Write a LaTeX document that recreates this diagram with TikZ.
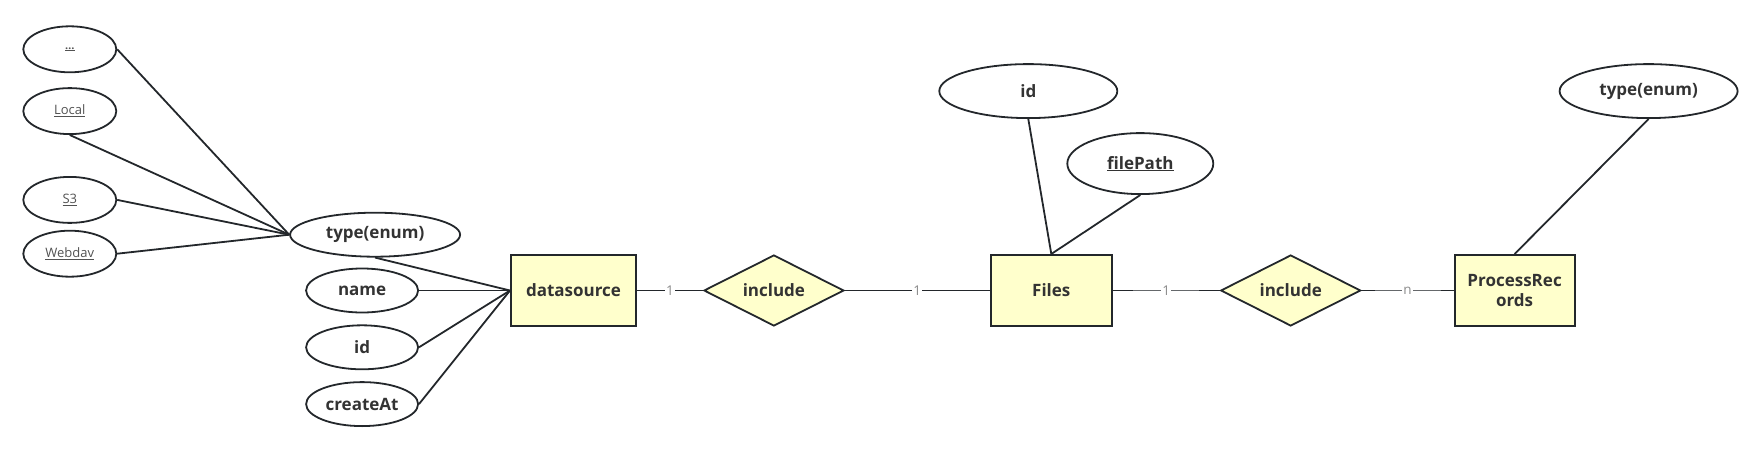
\documentclass[tikz,border=0pt]{standalone}
\usepackage{fontspec}
\setmainfont{Open Sans}
\usetikzlibrary{positioning, shapes.geometric}

\definecolor{erline}{HTML}{23272B}
\definecolor{erfill}{HTML}{FFFFCC}
\definecolor{ertext}{HTML}{333333}

\newcommand\erbold{\fontsize{17}{20}\selectfont\bfseries}
\newcommand\erplain{\fontsize{13}{15}\selectfont}
\newcommand\ercard{\fontsize{13.5}{15}\selectfont}

\begin{document}
\begin{tikzpicture}
   [
      x=1pt, y=-1pt,
      entity/.style={rectangle, draw=erline, line width=2pt, fill=erfill,
                     minimum height=71pt, inner sep=2pt, align=center,
                     font=\erbold, text=ertext},
      relation/.style={diamond, aspect=2, draw=erline, line width=1.8pt, fill=erfill,
                       minimum width=140pt, minimum height=71pt, inner sep=0pt,
                       font=\erbold, text=ertext},
      attr/.style={ellipse, draw=erline, line width=1.8pt, fill=white,
                   minimum width=112pt, minimum height=44pt, inner sep=1pt,
                   font=\erbold, text=ertext},
      enum value/.style={attr, minimum width=93pt, minimum height=46pt,
                         font=\erplain, text=ertext!85},
      link/.style={line width=1.8pt, draw=erline},
      card/.style={font=\ercard, text=gray!90, fill=white, inner sep=1pt},
      card veil/.style={fill=white, fill opacity=0.3, inner sep=0pt,
                        minimum width=66pt, minimum height=3pt}
   ]

   \useasboundingbox (0,0) rectangle (1764,452);

   % =======================================================
   % Main row: entities and relationships
   % =======================================================

   \node[entity, minimum width=125pt] (ds) at (573.5,290.5) {datasource};
   \node[relation, right=66pt of ds] (inc_a) {include};
   \node[entity, minimum width=121pt, right=145pt of inc_a] (files) {Files};
   \node[relation, right=107pt of files] (inc_b) {include};
   \node[entity, minimum width=120pt, right=92pt of inc_b] (records) {ProcessRec\\ords};

   % Relationship lines with cardinalities
   \draw[link] (ds) -- node[card] (c_ds) {1} (inc_a);
   \draw[link] (inc_a) -- node[card] (c_files) {1} (files);
   \draw[link] (files) -- node[card veil] (v_files) {} node[card] (c_inc) {1} (inc_b);
   \draw[link] (inc_b) -- node[card veil] (v_records) {} node[card] (c_records) {n} (records);

   % =======================================================
   % datasource attributes
   % =======================================================

   \node[attr, left=91pt of ds] (ds_name) {name};
   \node[attr, below=11pt of ds_name] (ds_id) {id};
   \node[attr, below=11pt of ds_id] (ds_created) {createAt};
   \node[attr, minimum width=170pt, above=10pt of ds_name, xshift=13pt] (ds_type) {type(enum)};

   \draw[link] (ds_type.south) -- (ds.west);
   \draw[link] (ds_name.east) -- (ds.west);
   \draw[link] (ds_id.east) -- (ds.west);
   \draw[link] (ds_created.east) -- (ds.west);

   % Values of type(enum)
   \node[enum value, left=172pt of ds_type, yshift=-19pt] (val_webdav) {\underline{Webdav}};
   \node[enum value, above=6pt of val_webdav] (val_s3) {\underline{S3}};
   \node[enum value, above=41pt of val_s3] (val_local) {\underline{Local}};
   \node[enum value, above=14pt of val_local, font=\fontsize{11}{12}\selectfont\bfseries] (val_more) {\underline{\ldots}};

   \draw[link] (val_more.east) -- (ds_type.west);
   \draw[link] (val_local.south) -- (ds_type.west);
   \draw[link] (val_s3.east) -- (ds_type.west);
   \draw[link] (val_webdav.east) -- (ds_type.west);

   % =======================================================
   % Files attributes
   % =======================================================

   \node[attr, minimum width=178pt, minimum height=54pt, above=135pt of files, xshift=-23pt] (f_id) {id};
   \node[attr, minimum width=146pt, minimum height=61pt, above=59pt of files, xshift=89pt] (f_path) {\underline{filePath}};

   \draw[link] (f_id.south) -- (files.north);
   \draw[link] (f_path.south) -- (files.north);

   % =======================================================
   % ProcessRecords attributes
   % =======================================================

   \node[attr, minimum width=178pt, minimum height=54pt, above=135pt of records, xshift=134pt] (r_type) {type(enum)};

   \draw[link] (r_type.south) -- (records.north);

\end{tikzpicture}
\end{document}
